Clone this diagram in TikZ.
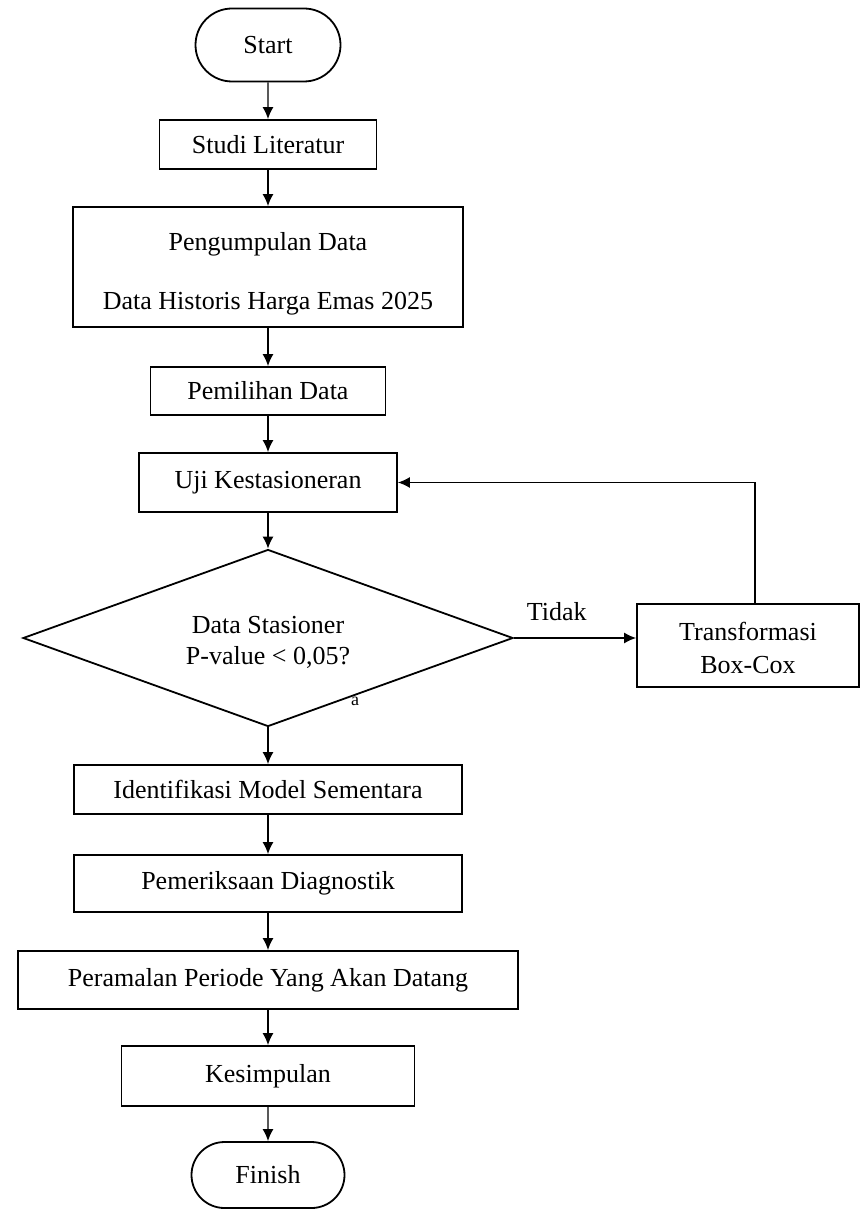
\documentclass[tikz,border=0pt]{standalone}
\usepackage{fontspec}
\setmainfont{Liberation Serif}
\usetikzlibrary{shapes.geometric,shapes.misc,arrows.meta}

\begin{document}
\begin{tikzpicture}[
    x=0.5pt, y=-0.5pt,
    every node/.style={font=\fontsize{13}{15.6}\selectfont},
    block/.style={draw, rectangle, line width=0.9pt, inner sep=0pt, align=center},
    term/.style={draw, rounded rectangle, line width=0.9pt, inner sep=0pt},
    decision/.style={draw, diamond, aspect=2.77, inner sep=0pt, line width=0.9pt,
        fill=white, align=center, minimum width=245pt, minimum height=88.5pt},
    line/.style={line width=0.7pt},
    >={Latex[length=6pt,width=5.5pt]}
]
\useasboundingbox (0,0) rectangle (865,1209);

% Main nodes
\node[term, minimum width=72.5pt, minimum height=36.5pt] (start) at (268,45) {Start};
\node[block, minimum width=108.5pt, minimum height=24.5pt] (studi) at (268,144.5) {Studi Literatur};
\node[block, minimum width=195pt, minimum height=60pt] (kumpul) at (268,267)
    {\rule{0pt}{16pt}Pengumpulan Data\\[14pt]Data Historis Harga Emas 2025};
\node[block, minimum width=117.5pt, minimum height=24pt] (pilih) at (268,391) {Pemilihan Data};
\node[block, minimum width=129pt, minimum height=29.5pt] (uji) at (268,482.5) {Uji Kestasioneran};
\node[decision] (dec) at (268,638) {\rule{0pt}{13pt}Data Stasioner\\P-value < 0,05?};
\node[block, minimum width=111pt, minimum height=41.5pt] (trans) at (748,645.5)
    {\rule{0pt}{12pt}Transformasi\\[1pt]Box-Cox};
\node[block, minimum width=194pt, minimum height=24.5pt] (ident) at (268,789.5) {Identifikasi Model Sementara};
\node[block, minimum width=194pt, minimum height=28.5pt] (periksa) at (268,883.5) {Pemeriksaan Diagnostik};
\node[block, minimum width=250pt, minimum height=29pt] (ramal) at (268,980) {Peramalan Periode Yang Akan Datang};
\node[block, minimum width=146.5pt, minimum height=30pt] (simpul) at (268,1076) {Kesimpulan};
\node[term, minimum width=76.5pt, minimum height=33pt] (finish) at (268,1175) {Finish};

% Helper coordinates
\coordinate (loopup) at (755,484);

% Main flow
\draw[line,->] (start) -- (studi);
\draw[line,->] (studi) -- (kumpul);
\draw[line,->] (kumpul) -- (pilih);
\draw[line,->] (pilih) -- (uji);
\draw[line,->] (uji) -- (dec);
\draw[line,->] (dec) -- (ident);
\draw[line,->] (ident) -- (periksa);
\draw[line,->] (periksa) -- (ramal);
\draw[line,->] (ramal) -- (simpul);
\draw[line,->] (simpul) -- (finish);

% Not stationary branch
\draw[line,->] (dec.east) -- node[pos=0.35, above=5pt] {Tidak} (dec.east -| trans.west);
\draw[line,->] (trans.north -| loopup) |- (uji.east);

% Leftover of the Ya label
\node[font=\fontsize{9}{10}\selectfont] (ya) at (355,701) {a};

\end{tikzpicture}
\end{document}
